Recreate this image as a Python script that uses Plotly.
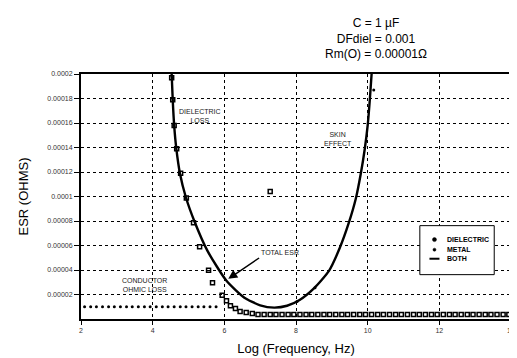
import plotly.graph_objects as go

# ---- data ----
both_x = [4.53, 4.56, 4.60, 4.66, 4.76, 4.92, 5.17, 5.53, 6.06, 6.56, 7.00, 7.39,
          7.75, 8.10, 8.50, 8.92, 9.22, 9.47, 9.67, 9.81, 9.92, 10.00, 10.06, 10.11]
both_y = [0.000200, 0.000179, 0.000158, 0.000139, 0.000119, 0.000100, 0.0000794,
          0.0000556, 0.0000312, 0.0000174, 0.0000112, 0.0000093, 0.0000108,
          0.0000155, 0.0000250, 0.0000393, 0.0000579, 0.0000782, 0.0000984,
          0.000119, 0.000139, 0.000158, 0.000179, 0.000200]

diel_x = [4.53, 4.56, 4.60, 4.67, 4.78, 4.94, 5.14, 5.31, 5.56, 5.67, 5.94, 6.06,
          6.17, 6.31, 6.44, 6.61, 6.78, 7.28,
          6.94, 7.11, 7.28, 7.44, 7.61, 7.78, 7.94, 8.11, 8.28, 8.44, 8.61, 8.78,
          8.94, 9.11, 9.28, 9.44, 9.61, 9.78, 9.94, 10.11, 10.28, 10.44, 10.61,
          10.78, 10.94, 11.11, 11.28, 11.44, 11.61, 11.78, 11.94, 12.11, 12.28,
          12.44, 12.61, 12.78, 12.94, 13.11, 13.28, 13.44, 13.61, 13.78, 13.94]
diel_y = [0.000197, 0.000179, 0.000158, 0.000139, 0.000119, 0.0000988, 0.0000785,
          0.0000590, 0.0000397, 0.0000296, 0.0000194, 0.0000150, 0.0000109,
          0.0000085, 0.0000061, 0.0000053, 0.0000045, 0.000104,
          0.0000037, 0.0000037, 0.0000037, 0.0000037, 0.0000037, 0.0000037,
          0.0000037, 0.0000037, 0.0000037, 0.0000037, 0.0000037, 0.0000037,
          0.0000037, 0.0000037, 0.0000037, 0.0000037, 0.0000037, 0.0000037,
          0.0000037, 0.0000037, 0.0000037, 0.0000037, 0.0000037, 0.0000037,
          0.0000037, 0.0000037, 0.0000037, 0.0000037, 0.0000037, 0.0000037,
          0.0000037, 0.0000037, 0.0000037, 0.0000037, 0.0000037, 0.0000037,
          0.0000037, 0.0000037, 0.0000037, 0.0000037, 0.0000037, 0.0000037,
          0.0000037]

metal_x = [2.10, 2.27, 2.43, 2.60, 2.77, 2.93, 3.10, 3.27, 3.43, 3.60, 3.77, 3.93,
           4.10, 4.27, 4.43, 4.60, 4.77, 4.93, 5.10, 5.27, 5.43, 5.60, 5.77,
           8.03, 8.53, 10.17]
metal_y = [0.00001] * 23 + [0.0000142, 0.0000255, 0.000187]

x_ticks = [2, 4, 6, 8, 10, 12, 14]
x_tick_labels = ["2", "4", "6", "8", "10", "12", "14"]
y_ticks = [0.00002, 0.00004, 0.00006, 0.00008, 0.0001, 0.00012, 0.00014,
           0.00016, 0.00018, 0.0002]
y_tick_labels = ["0.00002", "0.00004", "0.00006", "0.00008", "0.0001", "0.00012",
                 "0.00014", "0.00016", "0.00018", "0.0002"]

legend_names = ["DIELECTRIC", "METAL", "BOTH"]

FONT = "Liberation Sans, Arial, sans-serif"

fig = go.Figure()
fig.add_trace(go.Scatter(
    x=diel_x, y=diel_y, mode="markers", name=legend_names[0],
    marker=dict(symbol="square-open", size=4, color="black", line=dict(width=1.5, color="black"))))
fig.add_trace(go.Scatter(
    x=metal_x, y=metal_y, mode="markers", name=legend_names[1],
    marker=dict(symbol="circle", size=3, color="black")))
fig.add_trace(go.Scatter(
    x=both_x, y=both_y, mode="lines", name=legend_names[2],
    line=dict(color="black", width=2.4, shape="spline", smoothing=0.6)))

ann_font = dict(family=FONT, size=7, color="#222")
annotations = [
    dict(x=5.33, y=0.000166, text="DIELECTRIC<br>LOSS", showarrow=False, font=ann_font),
    dict(x=9.17, y=0.000147, text="SKIN<br>EFFECT", showarrow=False, font=ann_font),
    dict(x=3.78, y=0.0000279, text="CONDUCTOR<br>OHMIC LOSS", showarrow=False, font=ann_font),
    dict(x=6.11, y=0.0000328, ax=6.97, ay=0.0000498, axref="x", ayref="y",
         text="TOTAL ESR", showarrow=True, arrowhead=2, arrowsize=1.2, arrowwidth=1.5,
         arrowcolor="black", font=ann_font, xanchor="left", yanchor="bottom"),
    dict(xref="paper", yref="paper", x=0.81, y=1.245, yanchor="top",
         text="C = 1 µF<br>DFdiel = 0.001<br>Rm(O) = 0.00001Ω", showarrow=False,
         font=dict(family=FONT, size=12, color="black"), align="center"),
]

# hand-made compact legend (paper coordinates of the plot area)
leg_y = [0.324, 0.283, 0.246]
leg_sym_x = 0.822
for name, yy in zip(legend_names, leg_y):
    annotations.append(dict(xref="paper", yref="paper", x=0.848, y=yy, text="<b>" + name + "</b>",
                            showarrow=False, xanchor="left", yanchor="middle", borderpad=0,
                            font=dict(family=FONT, size=7, color="black")))

shapes = [dict(type="rect", xref="paper", yref="paper", x0=0.788, x1=0.961,
               y0=0.181, y1=0.381, line=dict(color="black", width=1),
               fillcolor="white", layer="above")]
# legend symbols: dot (dielectric), small dot (metal), line (both)
shapes.append(dict(type="circle", xref="paper", yref="paper", xsizemode="pixel", ysizemode="pixel",
                   xanchor=leg_sym_x, yanchor=leg_y[0], x0=-2, x1=2, y0=-2, y1=2,
                   fillcolor="black", line=dict(color="black", width=0.5), layer="above"))
shapes.append(dict(type="circle", xref="paper", yref="paper", xsizemode="pixel", ysizemode="pixel",
                   xanchor=leg_sym_x, yanchor=leg_y[1], x0=-1.5, x1=1.5, y0=-1.5, y1=1.5,
                   fillcolor="black", line=dict(color="black", width=0.5), layer="above"))
shapes.append(dict(type="line", xref="paper", yref="paper", xsizemode="pixel", ysizemode="pixel",
                   xanchor=leg_sym_x, yanchor=leg_y[2], x0=-5, x1=5, y0=0, y1=0,
                   line=dict(color="black", width=2), layer="above"))

fig.update_layout(
    width=517, height=358,
    margin=dict(l=73, r=10, t=66, b=47),
    paper_bgcolor="white", plot_bgcolor="white",
    font=dict(family=FONT, color="black"),
    showlegend=False,
    annotations=annotations,
    shapes=shapes,
)
fig.update_xaxes(
    range=[2, 14], tickvals=x_ticks, ticktext=x_tick_labels,
    showline=True, linecolor="black", linewidth=2, mirror=True,
    showgrid=True, gridcolor="black", gridwidth=1, griddash="dot",
    ticks="outside", ticklen=4, tickcolor="black",
    tickfont=dict(family=FONT, size=7, color="#333"),
    title=dict(text="Log (Frequency, Hz)", font=dict(family=FONT, size=13), standoff=10),
    zeroline=False)
fig.update_yaxes(
    range=[0, 0.0002], tickvals=y_ticks, ticktext=y_tick_labels,
    showline=True, linecolor="black", linewidth=2, mirror=True,
    showgrid=True, gridcolor="black", gridwidth=1, griddash="dot",
    ticks="outside", ticklen=5, tickcolor="black",
    tickfont=dict(family=FONT, size=7, color="#333"),
    title=dict(text="ESR (OHMS)", font=dict(family=FONT, size=13), standoff=16),
    zeroline=False)

fig.write_html("out.html")
